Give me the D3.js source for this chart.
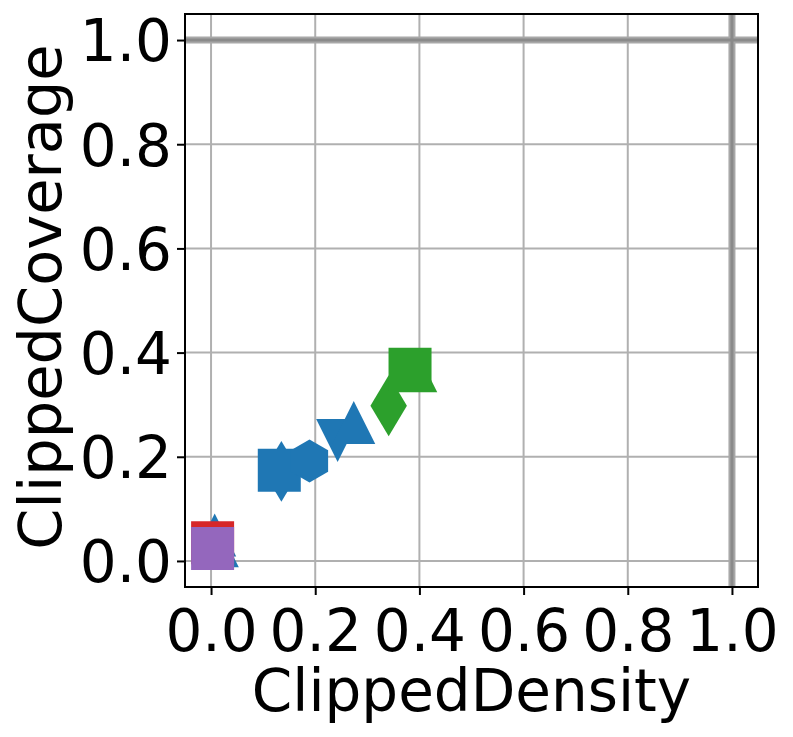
<!DOCTYPE html>
<html>
<head>
<meta charset="utf-8">
<script src="https://cdn.jsdelivr.net/npm/d3@7"></script>
<style>
  html, body { margin: 0; padding: 0; background: #ffffff; }
  svg { display: block; }
  text { font-family: "DejaVu Sans", sans-serif; fill: #000; }
</style>
</head>
<body>
<svg id="chart" width="793" height="737"></svg>
<script>
// ---- data ----
const seriesNames = ["S0", "S1", "S2", "S3", "S4"];
const pointSeries = ["S0", "S0", "S0", "S0", "S0", "S0", "S0", "S2", "S2", "S2", "S3", "S4"];
const pointMethod = ["triangle_up", "triangle_up", "thin_diamond", "square", "hexagon", "triangle_down", "triangle_up",
                     "thin_diamond", "triangle_up", "square", "square", "square"];
const pointDensity  = [0.007, 0.012, 0.135, 0.131, 0.189, 0.243, 0.274, 0.341, 0.393, 0.382, 0.003, 0.003];
const pointCoverage = [0.050, 0.029, 0.172, 0.174, 0.192, 0.231, 0.266, 0.298, 0.365, 0.368, 0.035, 0.024];
const tickValues = [0.0, 0.2, 0.4, 0.6, 0.8, 1.0];
const refLines = [1.0];
const xLabel = "ClippedDensity";
const yLabel = "ClippedCoverage";

// ---- layout ----
const svg = d3.select("#chart");
const plot = { left: 185, right: 758, top: 14, bottom: 587 };
const x = d3.scaleLinear().domain([-0.05, 1.05]).range([plot.left, plot.right]);
const y = d3.scaleLinear().domain([-0.05, 1.05]).range([plot.bottom, plot.top]);
const color = d3.scaleOrdinal().domain(seriesNames).range(d3.schemeCategory10);
const fontSize = 58;
const ms = 43; // marker size in px

// grid
const grid = svg.append("g");
grid.selectAll("line.gx").data(tickValues).join("line")
  .attr("x1", d => x(d)).attr("x2", d => x(d))
  .attr("y1", plot.top).attr("y2", plot.bottom)
  .attr("stroke", "#b0b0b0").attr("stroke-width", 2);
grid.selectAll("line.gy").data(tickValues).join("line")
  .attr("y1", d => y(d)).attr("y2", d => y(d))
  .attr("x1", plot.left).attr("x2", plot.right)
  .attr("stroke", "#b0b0b0").attr("stroke-width", 2);

// reference lines at 1.0
const ref = svg.append("g");
[["#a8a8a8", 7], ["#8a8a8a", 3]].forEach(([c, w]) => {
  ref.selectAll(null).data(refLines).join("line")
    .attr("x1", d => x(d)).attr("x2", d => x(d))
    .attr("y1", plot.top).attr("y2", plot.bottom)
    .attr("stroke", c).attr("stroke-width", w);
  ref.selectAll(null).data(refLines).join("line")
    .attr("y1", d => y(d)).attr("y2", d => y(d))
    .attr("x1", plot.left).attr("x2", plot.right)
    .attr("stroke", c).attr("stroke-width", w);
});

// marker paths (matplotlib-like geometry)
function markerPath(kind, s) {
  const h = s / 2;
  switch (kind) {
    case "square": return `M${-h},${-h}H${h}V${h}H${-h}Z`;
    case "triangle_up": return `M0,${-h}L${h},${h}L${-h},${h}Z`;
    case "triangle_down": return `M0,${h}L${h},${-h}L${-h},${-h}Z`;
    case "thin_diamond": {
      const dy = s * Math.SQRT1_2, dx = 0.6 * dy;
      return `M0,${-dy}L${dx},0L0,${dy}L${-dx},0Z`;
    }
    case "hexagon": {
      const pts = d3.range(6).map(i => {
        const a = -Math.PI / 2 + i * Math.PI / 3;
        return [h * Math.cos(a), h * Math.sin(a)];
      });
      return "M" + pts.map(p => p.join(",")).join("L") + "Z";
    }
  }
}

svg.append("clipPath").attr("id", "plotclip").append("rect")
  .attr("x", plot.left).attr("y", plot.top)
  .attr("width", plot.right - plot.left).attr("height", plot.bottom - plot.top);

const points = d3.range(pointDensity.length);
svg.append("g").attr("clip-path", "url(#plotclip)")
  .selectAll("path").data(points).join("path")
  .attr("transform", i => `translate(${x(pointDensity[i])},${y(pointCoverage[i])})`)
  .attr("d", i => markerPath(pointMethod[i], ms))
  .attr("fill", i => color(pointSeries[i]));

// axes
const xAxis = d3.axisBottom(x).tickValues(tickValues).tickFormat(d3.format(".1f")).tickSizeOuter(0).tickSize(8).tickPadding(6);
const yAxis = d3.axisLeft(y).tickValues(tickValues).tickFormat(d3.format(".1f")).tickSizeOuter(0).tickSize(8).tickPadding(6);

const gx = svg.append("g").attr("transform", `translate(0,${plot.bottom})`).call(xAxis);
const gy = svg.append("g").attr("transform", `translate(${plot.left},0)`).call(yAxis);
[gx, gy].forEach(g => {
  g.select(".domain").remove();
  g.selectAll(".tick line").attr("stroke", "#000").attr("stroke-width", 2);
  g.selectAll(".tick text").attr("font-size", fontSize).attr("font-family", "DejaVu Sans").attr("fill", "#000");
});
gx.selectAll(".tick text").attr("dy", null).attr("y", 64);
gy.selectAll(".tick text").attr("dy", "0.36em").attr("x", -13);

// frame
svg.append("rect")
  .attr("x", plot.left).attr("y", plot.top)
  .attr("width", plot.right - plot.left).attr("height", plot.bottom - plot.top)
  .attr("fill", "none").attr("stroke", "#000").attr("stroke-width", 2);

// labels
svg.append("text").attr("x", (plot.left + plot.right) / 2).attr("y", 711)
  .attr("text-anchor", "middle").attr("font-size", fontSize).text(xLabel);
svg.append("text")
  .attr("transform", `translate(61,297) rotate(-90)`)
  .attr("text-anchor", "middle").attr("font-size", fontSize + 1).text(yLabel);
</script>
</body>
</html>
